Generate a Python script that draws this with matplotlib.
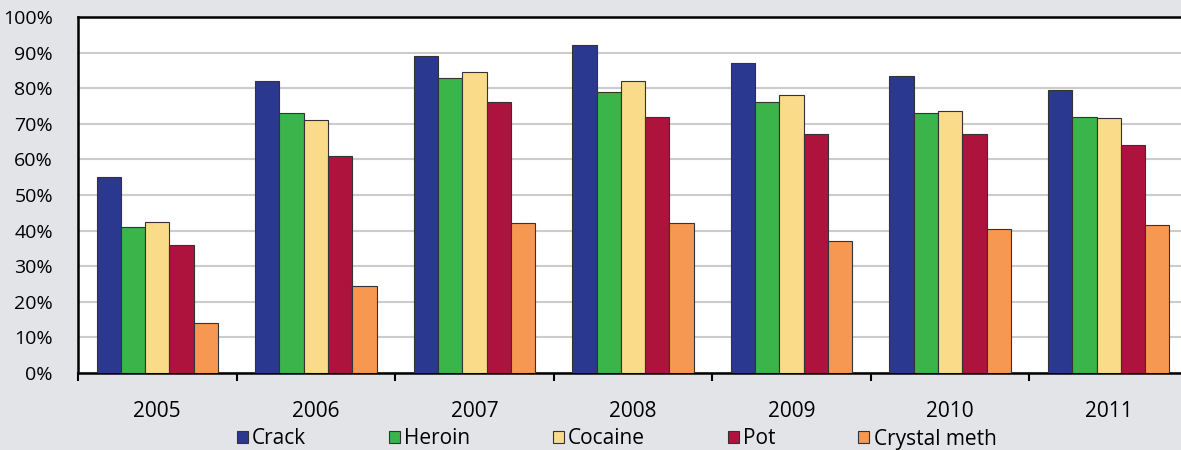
import matplotlib.pyplot as plt
import numpy as np

years = ["2005", "2006", "2007", "2008", "2009", "2010", "2011"]
series = ["Crack", "Heroin", "Cocaine", "Pot", "Crystal meth"]
crack = [55, 82, 89, 92, 87, 83.5, 79.5]
heroin = [41, 73, 83, 79, 76, 73, 72]
cocaine = [42.5, 71, 84.5, 82, 78, 73.5, 71.5]
pot = [36, 61, 76, 72, 67, 67, 64]
crystal_meth = [14, 24.5, 42, 42, 37, 40.5, 41.5]

colors = ["#2B388F", "#3BB54A", "#FADB8A", "#AE133D", "#F79852"]
values = [crack, heroin, cocaine, pot, crystal_meth]

plt.rcParams['font.family'] = ['Open Sans', 'DejaVu Sans']

fig = plt.figure(figsize=(11.81, 4.5), dpi=100)
fig.patch.set_facecolor("#E3E4E8")
ax = fig.add_axes([78 / 1181, 77 / 450, 1110 / 1181, 356 / 450])
ax.set_facecolor("white")

x = np.arange(len(years))
w = 0.153
for i, (name, vals) in enumerate(zip(series, values)):
    ax.bar(x + (i - 2) * w, vals, width=w, color=colors[i], edgecolor="#333333",
           linewidth=0.8, label=name, zorder=3)

ax.set_xlim(-0.5, len(years) - 0.5)
ax.set_ylim(0, 100)
ax.set_yticks(range(0, 101, 10))
ax.set_yticklabels([f"{v}%" for v in range(0, 101, 10)], fontsize=14)
ax.tick_params(axis="y", length=0, pad=18)
ax.grid(axis="y", color="#CCCCCC", linewidth=1.5, zorder=0)

ax.set_xticks(x)
ax.set_xticklabels(years, fontsize=15)
ax.tick_params(axis="x", which="major", length=0, pad=20)
ax.set_xticks(np.arange(-0.5, len(years), 1), minor=True)
ax.tick_params(axis="x", which="minor", length=6, width=1.5, direction="out")

for s in ["left", "bottom", "top"]:
    ax.spines[s].set_linewidth(1.8)
    ax.spines[s].set_color("black")
ax.spines["right"].set_visible(False)

# légende en bas, sur une ligne
leg = fig.legend(loc="center", ncol=5, frameon=False, fontsize=15,
                 handlelength=0.55, handleheight=0.55, handletextpad=0.2,
                 columnspacing=3.95, borderaxespad=0)
leg.set_bbox_to_anchor((0.522, 1 - 439 / 450), transform=fig.transFigure)

fig.savefig("out.png", dpi=100, facecolor=fig.get_facecolor())
